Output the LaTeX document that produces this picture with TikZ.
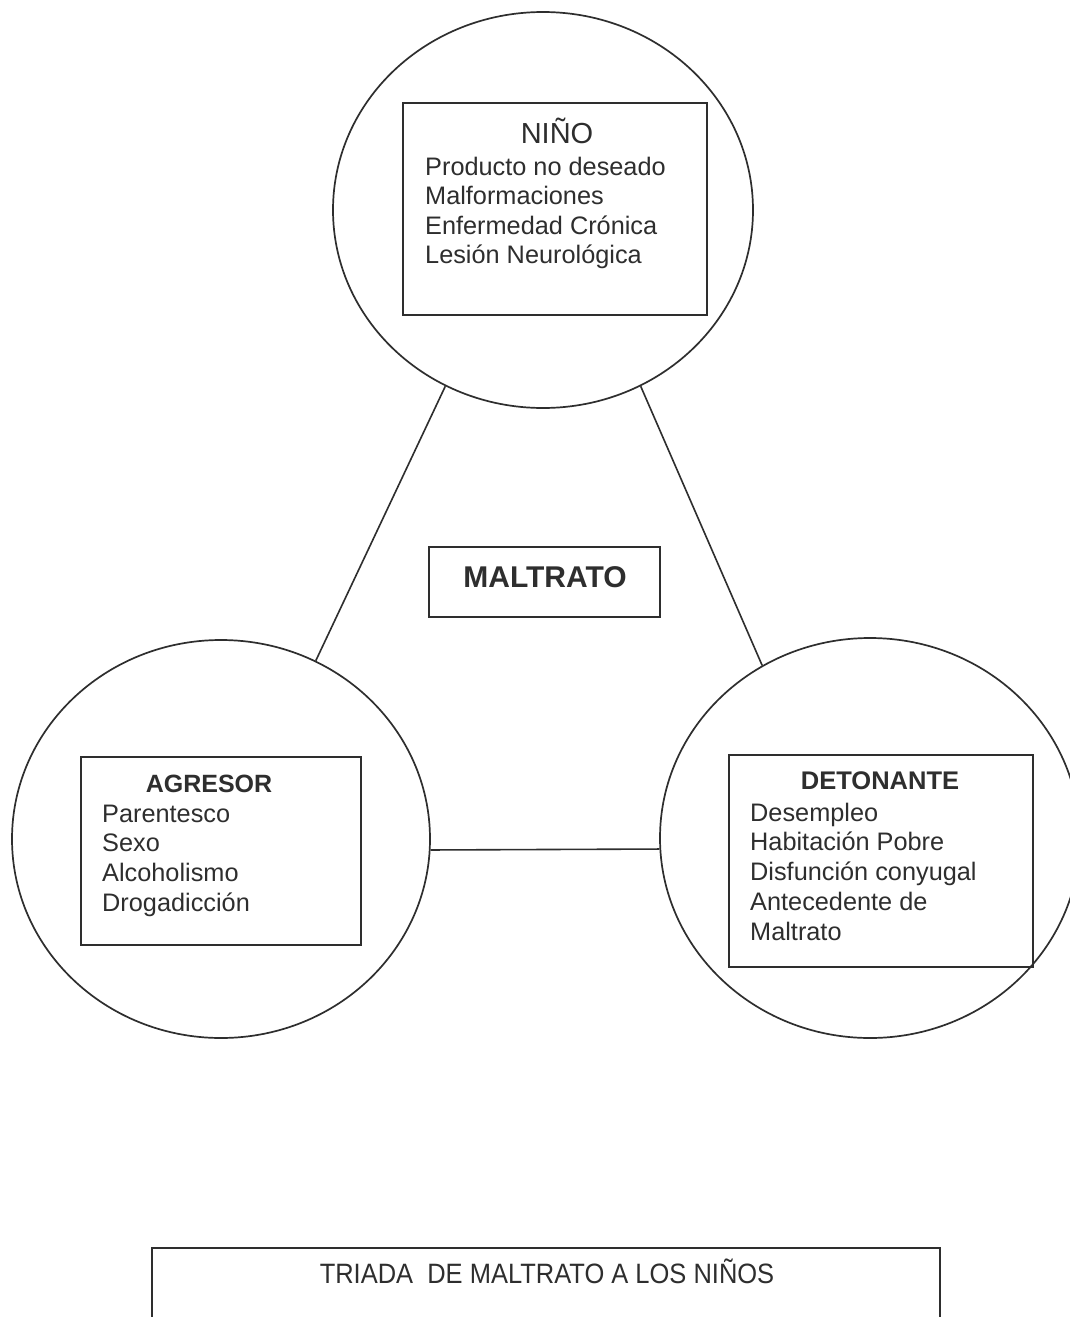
\documentclass[tikz,border=0pt]{standalone}
\usepackage{fontspec}
\setmainfont{Liberation Sans}
\usetikzlibrary{shapes.geometric}
\definecolor{ink}{HTML}{2E2E2E}
\begin{document}
\begin{tikzpicture}[x=1pt,y=-1pt,
  circ/.style={ellipse, draw=ink, line width=1.7pt, inner sep=0pt},
  frame/.style={rectangle, draw=ink, line width=1.7pt, inner sep=0pt},
  head/.style={text=ink, inner sep=0pt, anchor=base},
  item/.style={text=ink, inner sep=0pt, anchor=base west, font=\fontsize{25.3}{30}\selectfont},
  link/.style={draw=ink, line width=1.6pt}]
\useasboundingbox[fill=white] (0,0) rectangle (1069,1317);

% circles
\node[circ, minimum width=420pt, minimum height=396pt] (top) at (543,210) {};
\node[circ, minimum width=418pt, minimum height=398pt] (left) at (221,839) {};
\node[circ, minimum width=420pt, minimum height=400pt] (right) at (870,838) {};

% boxes
\node[frame, minimum width=304pt, minimum height=212pt] (topbox) at (555,209) {};
\node[frame, minimum width=280pt, minimum height=188pt] (leftbox) at (221,851) {};
\node[frame, minimum width=304pt, minimum height=212pt] (rightbox) at (881,861) {};
\node[frame, minimum width=231pt, minimum height=70pt] (mbox) at (544.5,582) {};

% texts top
\node[head, font=\fontsize{29}{34}\selectfont] (nino) at (557,143) {NIÑO};
\node[item] (n1) at (425,175) {Producto no deseado};
\node[item] (n2) at (425,204.5) {Malformaciones};
\node[item] (n3) at (425,234) {Enfermedad Crónica};
\node[item] (n4) at (425,263.5) {Lesión Neurológica};

% texts left
\node[head, font=\bfseries\fontsize{25}{30}\selectfont] (agr) at (209,792) {AGRESOR};
\node[item] (a1) at (102,822) {Parentesco};
\node[item] (a2) at (102,851.7) {Sexo};
\node[item] (a3) at (102,881.4) {Alcoholismo};
\node[item] (a4) at (102,911) {Drogadicción};

% texts right
\node[head, font=\bfseries\fontsize{25.5}{30}\selectfont] (det) at (880,789) {DETONANTE};
\node[item] (d1) at (750,821) {Desempleo};
\node[item] (d2) at (750,850.7) {Habitación Pobre};
\node[item] (d3) at (750,880.4) {Disfunción conyugal};
\node[item] (d4) at (750,910) {Antecedente de};
\node[item] (d5) at (750,940) {Maltrato};

% center
\node[head, font=\bfseries\fontsize{30}{36}\selectfont] (malt) at (545,587) {MALTRATO};

% connectors
\draw[link] (top.241.8) -- (left.62.3);
\draw[link] (top.-61.8) -- (right.122.5);
\draw[link] (left.-3) -- (right.183);

% bottom caption
\coordinate (bl) at (152,1330);
\coordinate (br) at (940,1330);
\draw[ink, line width=1.7pt] (bl) -- (152,1248) -- (940,1248) -- (br);
\node[head, font=\fontsize{28}{34}\selectfont] (cap) at (547,1283) {\scalebox{0.91}[1]{TRIADA\ \ DE MALTRATO A LOS NIÑOS}};
\end{tikzpicture}
\end{document}
